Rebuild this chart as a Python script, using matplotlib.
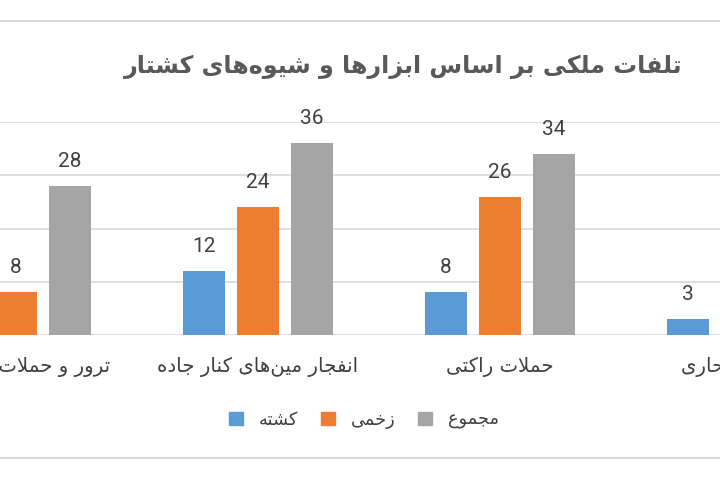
import numpy as np
import matplotlib
matplotlib.use("Agg")
import matplotlib.pyplot as plt
from matplotlib.lines import Line2D
from matplotlib.transforms import blended_transform_factory

# ---------------- data ----------------
categories = ["ترور و حملات مسلحانه", "انفجار مین‌های کنار جاده", "حملات راکتی", "حملات انتحاری"]
series_names = ["کشته", "زخمی", "مجموع"]
killed = [20, 12, 8, 3]
injured = [8, 24, 26, np.nan]
total = [28, 36, 34, np.nan]
title = "تلفات ملکی بر اساس ابزارها و شیوه‌های کشتار"
colors = ["#5B9BD5", "#ED7D31", "#A5A5A5"]

# ------------- minimal Arabic/Persian shaping -------------
# isolated, final, initial, medial
FORMS = {
    '\u0627': ('\uFE8D', '\uFE8E', None, None),
    '\u0622': ('\uFE81', '\uFE82', None, None),
    '\u0628': ('\uFE8F', '\uFE90', '\uFE91', '\uFE92'),
    '\u067E': ('\uFB56', '\uFB57', '\uFB58', '\uFB59'),
    '\u062A': ('\uFE95', '\uFE96', '\uFE97', '\uFE98'),
    '\u062B': ('\uFE99', '\uFE9A', '\uFE9B', '\uFE9C'),
    '\u062C': ('\uFE9D', '\uFE9E', '\uFE9F', '\uFEA0'),
    '\u0686': ('\uFB7A', '\uFB7B', '\uFB7C', '\uFB7D'),
    '\u062D': ('\uFEA1', '\uFEA2', '\uFEA3', '\uFEA4'),
    '\u062E': ('\uFEA5', '\uFEA6', '\uFEA7', '\uFEA8'),
    '\u062F': ('\uFEA9', '\uFEAA', None, None),
    '\u0630': ('\uFEAB', '\uFEAC', None, None),
    '\u0631': ('\uFEAD', '\uFEAE', None, None),
    '\u0632': ('\uFEAF', '\uFEB0', None, None),
    '\u0698': ('\uFB8A', '\uFB8B', None, None),
    '\u0633': ('\uFEB1', '\uFEB2', '\uFEB3', '\uFEB4'),
    '\u0634': ('\uFEB5', '\uFEB6', '\uFEB7', '\uFEB8'),
    '\u0635': ('\uFEB9', '\uFEBA', '\uFEBB', '\uFEBC'),
    '\u0636': ('\uFEBD', '\uFEBE', '\uFEBF', '\uFEC0'),
    '\u0637': ('\uFEC1', '\uFEC2', '\uFEC3', '\uFEC4'),
    '\u0638': ('\uFEC5', '\uFEC6', '\uFEC7', '\uFEC8'),
    '\u0639': ('\uFEC9', '\uFECA', '\uFECB', '\uFECC'),
    '\u063A': ('\uFECD', '\uFECE', '\uFECF', '\uFED0'),
    '\u0641': ('\uFED1', '\uFED2', '\uFED3', '\uFED4'),
    '\u0642': ('\uFED5', '\uFED6', '\uFED7', '\uFED8'),
    '\u0643': ('\uFED9', '\uFEDA', '\uFEDB', '\uFEDC'),
    '\u06A9': ('\uFB8E', '\uFB8F', '\uFB90', '\uFB91'),
    '\u06AF': ('\uFB92', '\uFB93', '\uFB94', '\uFB95'),
    '\u0644': ('\uFEDD', '\uFEDE', '\uFEDF', '\uFEE0'),
    '\u0645': ('\uFEE1', '\uFEE2', '\uFEE3', '\uFEE4'),
    '\u0646': ('\uFEE5', '\uFEE6', '\uFEE7', '\uFEE8'),
    '\u0647': ('\uFEE9', '\uFEEA', '\uFEEB', '\uFEEC'),
    '\u0648': ('\uFEED', '\uFEEE', None, None),
    '\u064A': ('\uFEF1', '\uFEF2', '\uFEF3', '\uFEF4'),
    '\u06CC': ('\uFBFC', '\uFBFD', '\uFBFE', '\uFBFF'),
}


def dual(c):
    return c in FORMS and FORMS[c][2] is not None


def joining(c):
    return c in FORMS


def shape(text):
    out = []
    n = len(text)
    i = 0
    while i < n:
        c = text[i]
        if c == '\u200C':
            i += 1
            continue
        if c not in FORMS:
            out.append(c)
            i += 1
            continue
        prev = text[i - 1] if i > 0 else ''
        con_prev = dual(prev)
        # lam-alef ligature
        if c == '\u0644' and i + 1 < n and text[i + 1] in ('\u0627', '\u0622'):
            if text[i + 1] == '\u0627':
                out.append('\uFEFC' if con_prev else '\uFEFB')
            else:
                out.append('\uFEF6' if con_prev else '\uFEF5')
            i += 2
            continue
        nxt = text[i + 1] if i + 1 < n else ''
        con_next = dual(c) and joining(nxt)
        iso, fin, ini, med = FORMS[c]
        if con_prev and con_next:
            g = med
        elif con_prev:
            g = fin
        elif con_next:
            g = ini
        else:
            g = iso
        out.append(g)
        i += 1
    return ''.join(out)[::-1]


# ---------------- figure ----------------
W, H = 720, 480
fig = plt.figure(figsize=(7.2, 4.8), dpi=100)
fig.patch.set_facecolor("white")

base_px, top_px = 335, 122
ax = fig.add_axes([0, (H - base_px) / H, 1, (base_px - top_px) / H])
spacing = 242.0
x0 = 16.0
ax.set_xlim(-x0 / spacing, (W - x0) / spacing)
ax.set_ylim(0, 40)

x = np.arange(len(categories))
bw = 42 / spacing
off = 54 / spacing
for k, (vals, col) in enumerate(zip([killed, injured, total], colors)):
    xs = x + (k - 1) * off
    v = np.array(vals, dtype=float)
    mask = ~np.isnan(v)
    ax.bar(xs[mask], v[mask], width=bw, color=col, zorder=3, clip_on=False,
           label=series_names[k])
    for xi, vi in zip(xs[mask], v[mask]):
        ax.annotate(f"{vi:g}", (xi, vi), xytext=(0, 13.7), textcoords="offset points",
                    ha="center", va="baseline", fontsize=15, color="#404040",
                    family="Roboto", annotation_clip=False)

ax.set_yticks([0, 10, 20, 30, 40])
ax.yaxis.grid(True, color="#d9d9d9", linewidth=1.2, zorder=0)
ax.set_axisbelow(True)
ax.tick_params(left=False, bottom=False, labelleft=False, labelbottom=False)
for s in ax.spines.values():
    s.set_visible(False)

tr = blended_transform_factory(ax.transData, fig.transFigure)
for xi, cat in zip(x, categories):
    ax.text(xi, 1 - 367 / H, shape(cat), transform=tr, ha="center", va="center",
            fontsize=14.2, color="#404040", family="DejaVu Sans", clip_on=False)

fig.text(403 / W, 1 - 67 / H, shape(title), ha="center", va="center",
         fontsize=17.1, fontweight="bold", color="#595959", family="DejaVu Sans")

handles = [plt.Rectangle((0, 0), 1, 1, color=c) for c in colors]
fig.legend(handles, [shape(s) for s in series_names], loc="center",
           bbox_to_anchor=(364 / W, 1 - 420 / H), ncol=3, frameon=False,
           handlelength=0.75, handleheight=0.75, handletextpad=0.9, columnspacing=1.3,
           prop={"family": "DejaVu Sans", "size": 12.8}, labelcolor="#404040")

for ypx in (21, 458):
    fig.add_artist(Line2D([0, 1], [1 - ypx / H] * 2, color="#d9d9d9", linewidth=1.5,
                          transform=fig.transFigure))

fig.savefig("out.png", dpi=100, facecolor="white")
